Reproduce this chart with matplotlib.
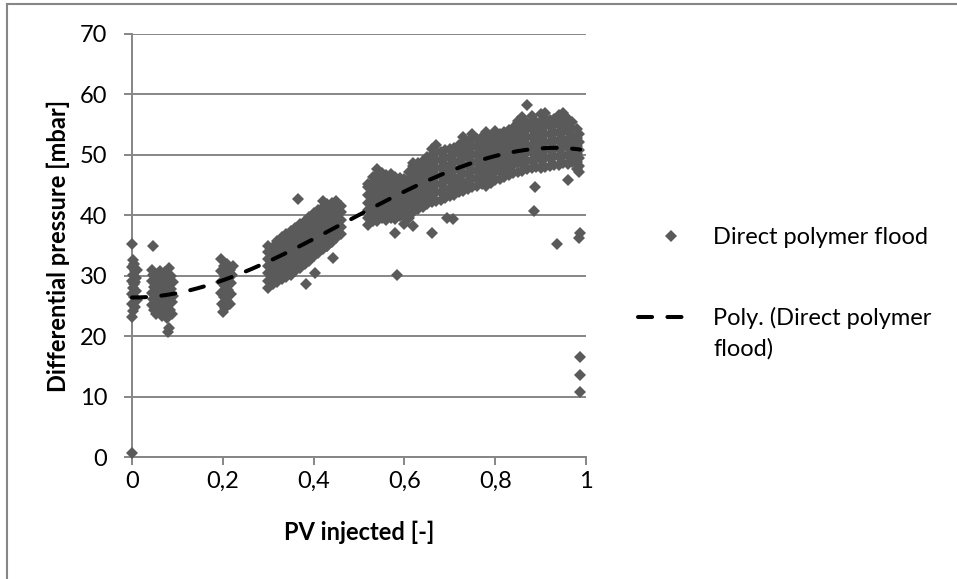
import numpy as np
import matplotlib
matplotlib.use("Agg")
import matplotlib.pyplot as plt
from matplotlib.lines import Line2D

plt.rcParams['font.family'] = ['Lato', 'DejaVu Sans']

# ---------------------------------------------------------------- data
series_label = "Direct polymer flood"
trend_label_lines = ["Poly. (Direct polymer", "flood)"]
x_label = "PV injected [-]"
y_label = "Differential pressure [mbar]"
x_ticks = [0.0, 0.2, 0.4, 0.6, 0.8, 1.0]
x_tick_labels = ["0", "0,2", "0,4", "0,6", "0,8", "1"]
y_ticks = [0, 10, 20, 30, 40, 50, 60, 70]

# third-order trendline coefficients, highest power first
trend_coef = [-62.2, 87.3, -0.77, 26.4]

# start of injection (x close to 0)
start_pts = [(0.000, 35.3), (0.002, 32.6), (0.005, 32.0), (0.000, 31.4), (0.007, 30.8),
             (0.003, 30.2), (0.009, 29.6), (0.000, 29.2), (0.005, 28.6), (0.002, 28.0),
             (0.008, 27.5), (0.000, 27.0), (0.004, 26.4), (0.010, 26.0), (0.001, 25.4),
             (0.006, 24.9), (0.003, 24.2), (0.000, 23.2), (0.007, 29.0), (0.011, 31.0),
             (0.000, 0.7)]

early_pts = [(0.046, 35.0), (0.043, 31.0), (0.047, 30.2), (0.044, 29.2), (0.048, 28.2),
             (0.043, 27.2), (0.047, 26.2), (0.044, 25.2), (0.049, 24.4), (0.053, 23.6),
             (0.056, 24.8), (0.052, 25.9), (0.057, 27.0), (0.053, 28.1), (0.058, 29.2),
             (0.054, 30.2), (0.061, 30.8), (0.062, 28.6), (0.063, 26.4), (0.061, 24.2),
             (0.066, 23.4), (0.068, 25.3), (0.067, 27.5), (0.069, 29.6), (0.072, 30.6),
             (0.073, 28.5), (0.072, 26.3), (0.074, 24.2), (0.078, 23.0), (0.079, 25.4),
             (0.078, 27.6), (0.078, 29.8), (0.082, 31.3), (0.083, 28.7), (0.082, 26.6),
             (0.084, 24.4), (0.081, 21.4), (0.080, 20.7), (0.086, 30.0), (0.087, 27.8),
             (0.088, 25.6), (0.089, 23.6), (0.090, 29.0), (0.090, 26.6)]

pv02_pts = [(0.197, 32.8), (0.203, 31.6), (0.210, 32.0), (0.216, 31.0), (0.221, 30.2),
            (0.197, 30.8), (0.204, 30.0), (0.211, 29.4), (0.218, 28.8), (0.197, 29.0),
            (0.204, 28.3), (0.211, 27.6), (0.217, 27.0), (0.197, 27.2), (0.203, 26.4),
            (0.210, 25.8), (0.216, 25.4), (0.198, 25.4), (0.204, 24.6), (0.200, 24.0),
            (0.222, 31.6), (0.212, 26.8)]

# middle band, one entry per PV step
mid_x = [0.30, 0.31, 0.32, 0.33, 0.34, 0.35, 0.36, 0.37, 0.38, 0.39,
         0.40, 0.41, 0.42, 0.43, 0.44, 0.45, 0.46]
mid_y = [[28.0, 29.2, 30.4, 31.6, 32.8, 34.0, 35.0],
         [28.6, 29.9, 31.1, 32.4, 33.6, 34.8],
         [29.0, 30.2, 31.4, 32.6, 33.8, 35.0, 35.8],
         [29.5, 30.8, 32.0, 33.3, 34.5, 35.8, 36.4],
         [29.8, 31.0, 32.2, 33.4, 34.6, 35.8, 36.9],
         [30.2, 31.5, 32.7, 34.0, 35.2, 36.5, 37.4],
         [30.8, 32.0, 33.2, 34.4, 35.6, 36.8, 37.9],
         [31.2, 32.5, 33.7, 35.0, 36.2, 37.5, 38.5],
         [31.9, 33.1, 34.3, 35.5, 36.7, 37.9, 39.1],
         [32.4, 33.7, 34.9, 36.2, 37.4, 38.7, 39.7],
         [33.2, 34.4, 35.6, 36.8, 38.0, 39.2, 40.3],
         [33.8, 35.1, 36.3, 37.6, 38.8, 40.1, 40.8],
         [34.4, 35.6, 36.8, 38.0, 39.2, 40.4, 41.4],
         [35.0, 36.3, 37.5, 38.8, 40.0, 41.3, 41.8],
         [35.6, 36.8, 38.0, 39.2, 40.4, 41.6, 42.1],
         [36.2, 37.5, 38.7, 40.0, 41.2, 42.4],
         [36.9, 38.1, 39.3, 40.5, 41.6]]

# late band, one entry per PV step
late_x = [0.52, 0.53, 0.54, 0.55, 0.56, 0.57, 0.58, 0.59, 0.60, 0.61,
          0.62, 0.63, 0.64, 0.65, 0.66, 0.67, 0.68, 0.69, 0.70, 0.71,
          0.72, 0.73, 0.74, 0.75, 0.76, 0.77, 0.78, 0.79, 0.80, 0.81,
          0.82, 0.83, 0.84, 0.85, 0.86, 0.87, 0.88, 0.89, 0.90, 0.91,
          0.92, 0.93, 0.94, 0.95, 0.96, 0.97, 0.98, 0.985]
late_y = [[38.4, 39.6, 40.9, 42.1, 43.4, 44.6, 45.2],
          [39.0, 40.2, 41.5, 42.8, 44.0, 45.3, 46.4],
          [39.0, 40.3, 41.6, 42.8, 44.1, 45.4, 46.6, 47.6],
          [39.5, 40.8, 42.0, 43.3, 44.6, 45.9, 47.0],
          [39.2, 40.4, 41.7, 43.0, 44.2, 45.5, 46.6],
          [39.6, 40.9, 42.2, 43.5, 44.8, 46.0, 46.9],
          [39.4, 40.6, 41.9, 43.2, 44.4, 45.7, 46.4],
          [39.8, 41.1, 42.4, 43.7, 45.0, 46.2],
          [38.6, 39.9, 41.2, 42.5, 43.8, 45.0, 46.0],
          [39.6, 40.9, 42.2, 43.5, 44.8, 46.0, 47.2],
          [40.6, 41.9, 43.2, 44.5, 45.8, 47.0, 48.2, 48.6],
          [41.0, 42.4, 43.7, 45.0, 46.3, 47.6, 48.6],
          [41.4, 42.7, 44.0, 45.3, 46.6, 47.9, 49.0],
          [41.8, 43.2, 44.5, 45.8, 47.1, 48.4, 49.6],
          [42.2, 43.5, 44.8, 46.1, 47.4, 48.7, 50.0, 51.0],
          [42.4, 43.8, 45.2, 46.5, 47.8, 49.1, 50.4, 51.6],
          [42.6, 43.9, 45.2, 46.5, 47.8, 49.1, 50.4],
          [42.9, 44.2, 45.6, 46.9, 48.2, 49.5, 50.8],
          [43.2, 44.5, 45.8, 47.1, 48.4, 49.7, 51.0],
          [43.4, 44.8, 46.2, 47.5, 48.8, 50.1, 51.2],
          [43.8, 45.1, 46.4, 47.7, 49.0, 50.3, 51.6],
          [44.0, 45.4, 46.8, 48.1, 49.4, 50.7, 52.0, 53.0],
          [44.4, 45.7, 47.0, 48.3, 49.6, 50.9, 52.2],
          [44.6, 46.0, 47.4, 48.7, 50.0, 51.3, 52.6, 53.4],
          [44.9, 46.2, 47.5, 48.8, 50.1, 51.4, 52.7],
          [45.2, 46.6, 48.0, 49.3, 50.6, 51.9, 53.0],
          [44.9, 46.2, 47.5, 48.8, 50.1, 51.4, 52.7, 53.8],
          [45.4, 46.8, 48.2, 49.5, 50.8, 52.1, 53.0],
          [45.8, 47.1, 48.4, 49.7, 51.0, 52.3, 53.6, 53.9],
          [46.0, 47.4, 48.8, 50.1, 51.4, 52.7, 53.5],
          [46.4, 47.7, 49.0, 50.3, 51.6, 52.9, 53.8],
          [46.6, 48.0, 49.4, 50.7, 52.0, 53.3, 54.1],
          [47.0, 48.3, 49.6, 50.9, 52.2, 53.5, 54.4],
          [47.2, 48.6, 50.0, 51.3, 52.6, 53.9, 55.2, 55.6],
          [47.4, 48.7, 50.0, 51.3, 52.6, 53.9, 55.2, 56.2],
          [47.6, 49.0, 50.4, 51.7, 53.0, 54.3, 55.2, 58.2],
          [47.8, 49.1, 50.4, 51.7, 53.0, 54.3, 55.6, 56.4],
          [48.0, 49.4, 50.8, 52.1, 53.4, 54.7, 55.5],
          [47.8, 49.1, 50.4, 51.7, 53.0, 54.3, 55.6, 56.8],
          [48.0, 49.4, 50.8, 52.1, 53.4, 54.7, 56.0, 57.0],
          [48.2, 49.5, 50.8, 52.1, 53.4, 54.7, 55.8],
          [48.4, 49.8, 51.2, 52.5, 53.8, 55.1, 55.9],
          [48.4, 49.7, 51.0, 52.3, 53.6, 54.9, 56.2, 56.6],
          [48.6, 50.0, 51.4, 52.7, 54.0, 55.3, 56.4, 57.0],
          [48.5, 49.8, 51.1, 52.4, 53.7, 55.0, 56.0],
          [48.8, 50.2, 51.6, 52.9, 54.2, 55.5],
          [47.6, 48.9, 50.2, 51.5, 52.8, 54.2],
          [48.2, 49.5, 50.8, 52.1, 53.5]]

# scattered readings away from the main bands
stray_pts = [(0.366, 42.7), (0.383, 28.6), (0.403, 30.5), (0.443, 33.0), (0.420, 42.3),
             (0.430, 35.0), (0.579, 37.0), (0.583, 30.2), (0.620, 38.3), (0.660, 37.0),
             (0.694, 39.6), (0.707, 39.4), (0.887, 44.6), (0.886, 40.7), (0.936, 35.3),
             (0.960, 45.8), (0.985, 47.2), (0.986, 37.1), (0.984, 36.2), (0.987, 16.5),
             (0.987, 13.5), (0.986, 10.7)]

# ---------------------------------------------------------------- assemble
def from_pairs(pts):
    arr = np.array(pts, dtype=float)
    return arr[:, 0], arr[:, 1]


def from_columns(xs, ys):
    px = np.concatenate([np.full(len(col), x) for x, col in zip(xs, ys)])
    py = np.concatenate([np.asarray(col, dtype=float) for col in ys])
    return px, py


parts = [from_pairs(start_pts), from_pairs(early_pts), from_pairs(pv02_pts),
         from_columns(mid_x, mid_y), from_columns(late_x, late_y), from_pairs(stray_pts)]
pv = np.concatenate([p[0] for p in parts])
dp = np.concatenate([p[1] for p in parts])

trend_x = np.linspace(pv.min(), pv.max(), 300)
trend_y = np.polyval(trend_coef, trend_x)

# ---------------------------------------------------------------- figure
W, H, DPI = 957, 579, 100
FS = 17
GRAY = '#868686'
MARK = '#5a5a5a'

fig = plt.figure(figsize=(W / DPI, H / DPI), dpi=DPI)
fig.patch.set_facecolor('white')


def fx(px):
    return px / W


def fy(py):
    return 1 - py / H


ax = fig.add_axes([fx(132), fy(457), (586 - 132) / W, (457 - 34) / H])
ax.set_xlim(0, 1)
ax.set_ylim(0, 70)

ax.plot(pv, dp, linestyle='none', marker='D', markersize=6.6,
        markerfacecolor=MARK, markeredgewidth=0, clip_on=False, zorder=3)
ax.plot(trend_x, trend_y, color='black', lw=2.9, dashes=(3.5, 3.8),
        dash_capstyle='round', zorder=4, clip_on=False)

ax.set_xticks(x_ticks)
ax.set_xticklabels(x_tick_labels)
ax.set_yticks(y_ticks)
ax.yaxis.grid(True, color=GRAY, lw=1.4)
ax.set_axisbelow(True)
for side in ('top', 'right'):
    ax.spines[side].set_visible(False)
for side in ('left', 'bottom'):
    ax.spines[side].set_color(GRAY)
    ax.spines[side].set_linewidth(1.4)
ax.tick_params(axis='both', direction='out', length=5.8, width=1.4, color=GRAY,
               labelsize=FS, labelcolor='black')
ax.tick_params(axis='y', pad=12)
ax.tick_params(axis='x', pad=4)

ax.set_xlabel(x_label, fontsize=FS, fontweight='bold', va='center')
ax.xaxis.set_label_coords((359 - 132) / 454, (457 - 532) / 423)
ax.set_ylabel(y_label, fontsize=FS, fontweight='bold', va='center')
ax.yaxis.set_label_coords((58 - 132) / 454, 0.5)

# legend entries
fig.add_artist(Line2D([fx(671)], [fy(236)], marker='D', markersize=6.6,
                      markerfacecolor=MARK, markeredgewidth=0, linestyle='none'))
fig.text(fx(713), fy(244), series_label, fontsize=FS, va='baseline', ha='left')
fig.add_artist(Line2D([fx(638), fx(690)], [fy(317), fy(317)], color='black', lw=2.9,
                      dashes=(3.5, 3.8), dash_capstyle='round'))
for line_text, base_px in zip(trend_label_lines, (325, 356)):
    fig.text(fx(713), fy(base_px), line_text, fontsize=FS, va='baseline', ha='left')

# outer chart frame
fig.add_artist(Line2D([fx(7), fx(7)], [fy(4), 0], color=GRAY, lw=1.5))
fig.add_artist(Line2D([fx(7), 1], [fy(4), fy(4)], color=GRAY, lw=1.5))

fig.savefig('out.png', dpi=DPI, facecolor='white')
